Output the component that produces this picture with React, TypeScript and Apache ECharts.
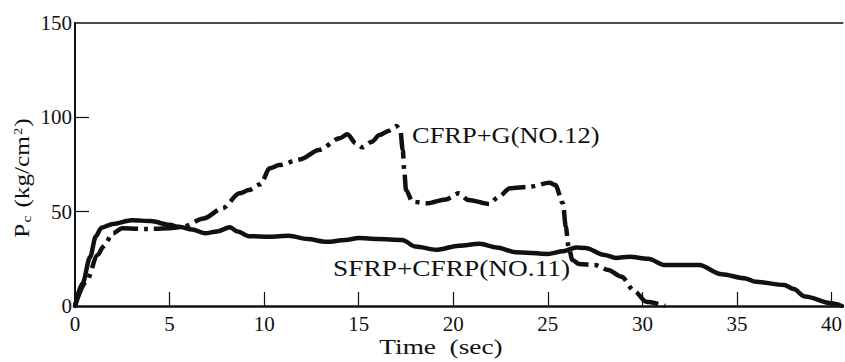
import React, { useEffect, useRef } from "react";
import * as echarts from "echarts";

// Axis ticks
const xTicks = [0, 5, 10, 15, 20, 25, 30, 35, 40];
const yTicks = [0, 50, 100, 150];

// SFRP+CFRP (NO.11): time (sec) and Pc (kg/cm²)
const no11Time = [
  0, 0.4, 0.8, 1.1, 1.4, 2.0, 3.0, 4.0, 5.0, 5.5, 6.2, 6.9, 7.5, 8.2, 8.6, 9.2,
  10.3, 11.3, 12.3, 13.3, 14.3, 15.0, 16.0, 17.3, 18.0, 19.1, 20.3, 21.4, 22.3,
  23.3, 25.0, 25.8, 26.5, 27.0, 28.0, 28.6, 29.3, 30.3, 31.2, 33.0, 34.2, 35.4,
  36.0, 37.5, 38.0, 38.6, 40.0, 40.55,
];
const no11Pc = [
  0, 12, 26, 37, 41.5, 43.5, 45.5, 45, 43, 42, 40.5, 38.5, 39.5, 41.7, 39.5, 37,
  36.7, 37.2, 35.5, 34, 35, 36, 35.5, 35, 31.5, 29.8, 32, 33, 31, 28.5, 27.6, 29,
  31, 30.8, 27, 25.5, 26.1, 25, 21.7, 21.7, 16.8, 14.7, 12.9, 11.1, 9, 5, 1.4, 0,
];

// CFRP+G (NO.12): time (sec) and Pc (kg/cm²)
const no12Time = [
  0, 0.6, 1.2, 1.5, 2.0, 2.5, 3.8, 5.0, 5.7, 6.8, 7.8, 8.7, 9.2, 9.8, 10.3, 10.8,
  11.9, 12.9, 14.0, 14.4, 14.85, 15.2, 15.7, 16.1, 16.6, 17.0, 17.2, 17.33, 17.42,
  17.5, 17.85, 18.6, 19.6, 20.3, 20.8, 21.9, 22.4, 23.0, 24.0, 25.1, 25.4, 25.8,
  25.95, 26.1, 26.3, 26.65, 27.5, 28.2, 28.9, 29.6, 30.2, 31.2,
];
const no12Pc = [
  0, 13, 27, 31.5, 38.5, 41.2, 40.8, 41.2, 42, 46.4, 51.8, 59.7, 61.5, 64.5, 73,
  74.7, 77.7, 82.7, 88.9, 91, 86.2, 84.1, 87.1, 90.6, 92.9, 95.4, 93.3, 82.7, 70.3,
  61.5, 55.3, 54.4, 56.5, 59.7, 56.2, 54.1, 57.9, 62.4, 63.2, 65.3, 64.1, 54.4, 42,
  31.4, 24.4, 22.3, 21.7, 19.1, 15.5, 7.6, 2.3, 0,
];

const no11Label = "SFRP+CFRP(NO.11)";
const no12Label = "CFRP+G(NO.12)";

const SERIF = "Liberation Serif";
const INK = "#111";

const pairs = (t: number[], v: number[]) => t.map((x, i) => [x, v[i]]);

export default function App() {
  const ref = useRef<HTMLDivElement>(null);

  useEffect(() => {
    if (!ref.current) return;
    const chart = echarts.init(ref.current, undefined, { renderer: "svg" });

    chart.setOption({
      animation: false,
      backgroundColor: "#fff",
      textStyle: { fontFamily: SERIF },
      grid: { left: 75, right: 1, top: 23, bottom: 56 },
      xAxis: [
        {
          type: "value",
          min: 0,
          max: 40.6,
          interval: 5,
          axisLine: { show: true, lineStyle: { color: INK, width: 2.5 } },
          splitLine: { show: false },
          axisTick: {
            show: true,
            inside: true,
            length: 14,
            customValues: xTicks,
            lineStyle: { color: INK, width: 1.2 },
          },
          axisLabel: {
            customValues: xTicks,
            color: INK,
            fontFamily: SERIF,
            fontSize: 21,
            margin: 7,
          },
        },
        {
          type: "value",
          position: "top",
          min: 0,
          max: 40.6,
          axisLine: { show: true, lineStyle: { color: INK, width: 1.5 } },
          axisTick: { show: false },
          axisLabel: { show: false },
          splitLine: { show: false },
        },
      ],
      yAxis: {
        type: "value",
        min: 0,
        max: 150,
        interval: 50,
        axisLine: { show: true, lineStyle: { color: INK, width: 2 } },
        splitLine: { show: false },
        axisTick: {
          show: true,
          inside: true,
          length: 14,
          customValues: yTicks.slice(1, 3),
          lineStyle: { color: INK, width: 1.2 },
        },
        axisLabel: {
          customValues: yTicks,
          color: INK,
          fontFamily: SERIF,
          fontSize: 21,
          margin: 3,
        },
      },
      series: [
        {
          name: no11Label,
          type: "line",
          data: pairs(no11Time, no11Pc),
          smooth: 0.3,
          smoothMonotone: "x",
          showSymbol: false,
          lineStyle: { color: INK, width: 4.5, cap: "round", join: "round" },
        },
        {
          name: no12Label,
          type: "line",
          data: pairs(no12Time, no12Pc),
          smooth: 0.3,
          smoothMonotone: "x",
          showSymbol: false,
          lineStyle: {
            color: INK,
            width: 4.5,
            type: [26, 6, 4, 6],
            cap: "butt",
            join: "round",
          },
        },
      ],
      graphic: [
        {
          type: "text",
          x: 412,
          y: 135,
          scaleX: 1.15,
          style: {
            text: no12Label,
            font: `23px ${SERIF}`,
            fill: INK,
            verticalAlign: "middle",
          },
        },
        {
          type: "text",
          x: 333,
          y: 268,
          scaleX: 1.19,
          style: {
            text: no11Label,
            font: `23px ${SERIF}`,
            fill: INK,
            verticalAlign: "middle",
          },
        },
        {
          type: "text",
          x: 441,
          y: 347,
          scaleX: 1.3,
          style: {
            text: "Time  (sec)",
            font: `21px ${SERIF}`,
            fill: INK,
            align: "center",
            verticalAlign: "middle",
          },
        },
        {
          type: "text",
          x: 22,
          y: 178,
          rotation: Math.PI / 2,
          scaleX: 1.2,
          style: {
            text: "{a|P}{s|c}  {a|(kg/cm}{p|2}{a|)}",
            fill: INK,
            align: "center",
            verticalAlign: "middle",
            rich: {
              a: { fontFamily: SERIF, fontSize: 21, fill: INK },
              s: { fontFamily: SERIF, fontSize: 13, fill: INK, verticalAlign: "bottom", padding: [8, 0, 0, 1] },
              p: { fontFamily: SERIF, fontSize: 12, fill: INK, verticalAlign: "top", padding: [0, 1, 8, 1] },
            },
          },
        },
      ],
    });

    return () => chart.dispose();
  }, []);

  return (
    <div
      ref={ref}
      style={{ position: "fixed", left: 0, top: 0, width: 845, height: 362 }}
    />
  );
}
